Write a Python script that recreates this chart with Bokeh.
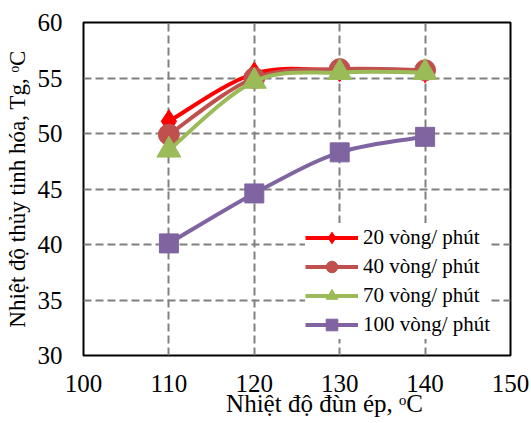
import math
from bokeh.plotting import figure
from bokeh.models import Legend, LegendItem, FixedTicker
from bokeh.embed import file_html
from bokeh.resources import INLINE

# ---- data ----
temps = [110, 120, 130, 140]
tg_20 = [51.1, 55.4, 55.7, 55.6]
tg_40 = [49.9, 55.0, 55.8, 55.7]
tg_70 = [48.5, 54.7, 55.5, 55.5]
tg_100 = [40.1, 44.6, 48.3, 49.7]
series_labels = ["20 vòng/ phút", "40 vòng/ phút", "70 vòng/ phút", "100 vòng/ phút"]
x_ticks = [100, 110, 120, 130, 140, 150]
y_ticks = [30, 35, 40, 45, 50, 55, 60]
x_title = "Nhiệt độ đùn ép, \u1d52C"
y_title = "Nhiệt độ thủy tinh hóa, Tg, \u1d52C"

FONT = "'Liberation Serif', 'Times New Roman', Times, serif"

# ---- layout ----
W, H = 531, 423
FL, FR, FT, FB = 83, 510, 22, 355   # frame edges in screen px

p = figure(width=W, height=H, x_range=(100, 150), y_range=(30, 60),
           output_backend="svg", toolbar_location=None,
           min_border_left=FL, min_border_right=W - FR,
           min_border_top=FT, min_border_bottom=H - FB)
p.background_fill_color = "white"
p.border_fill_color = "white"
p.outline_line_color = "black"
p.outline_line_width = 2
p.outline_line_alpha = 1.0

for ax, ticks in ((p.xaxis, x_ticks), (p.yaxis, y_ticks)):
    ax.ticker = FixedTicker(ticks=ticks)
    ax.major_label_text_font = FONT
    ax.major_label_text_font_size = "25px"
    ax.major_label_text_color = "black"
    ax.major_tick_in = 0
    ax.major_tick_out = 0
    ax.minor_tick_in = 0
    ax.minor_tick_out = 0
    ax.axis_line_color = None
    ax.axis_label_text_font = FONT
    ax.axis_label_text_font_style = "normal"
    ax.axis_label_text_color = "black"

p.xaxis.major_label_standoff = 19
p.yaxis.major_label_standoff = 21
# leading em/thin spaces push the centred title to the right, as in the reference
p.xaxis.axis_label = "\u2003\u2003\u2009" + x_title
p.yaxis.axis_label = y_title
p.xaxis.axis_label_text_font_size = "25px"
p.yaxis.axis_label_text_font_size = "23px"
p.xaxis.axis_label_standoff = -5
p.yaxis.axis_label_standoff = 5

for g, ticks in ((p.xgrid, x_ticks), (p.ygrid, y_ticks)):
    g.ticker = FixedTicker(ticks=ticks)
    g.grid_line_color = "#808080"
    g.grid_line_width = 2
    g.grid_line_dash = "8 4"

# ---- series ----
def smooth(xs, ys):
    n = len(xs)
    out = dict(x0=[], y0=[], x1=[], y1=[], cx0=[], cy0=[], cx1=[], cy1=[])
    for i in range(n - 1):
        im = i - 1 if i > 0 else i
        ip = i + 2 if i + 2 < n else i + 1
        out["x0"].append(xs[i]); out["y0"].append(ys[i])
        out["x1"].append(xs[i + 1]); out["y1"].append(ys[i + 1])
        out["cx0"].append(xs[i] + (xs[i + 1] - xs[im]) / 6)
        out["cy0"].append(ys[i] + (ys[i + 1] - ys[im]) / 6)
        out["cx1"].append(xs[i + 1] - (xs[ip] - xs[i]) / 6)
        out["cy1"].append(ys[i + 1] - (ys[ip] - ys[i]) / 6)
    return out

styles = [
    dict(color="#FF0000", marker="diamond", size=23),
    dict(color="#C0504D", marker="circle", size=21),
    dict(color="#9BBB59", marker="triangle", size=24),
    dict(color="#8064A2", marker="square", size=19),
]

items = []
for ys, lab, st in zip([tg_20, tg_40, tg_70, tg_100], series_labels, styles):
    c = smooth(temps, ys)
    br = p.bezier(x0=c["x0"], y0=c["y0"], x1=c["x1"], y1=c["y1"],
                  cx0=c["cx0"], cy0=c["cy0"], cx1=c["cx1"], cy1=c["cy1"],
                  line_color=st["color"], line_width=4)
    sr = p.scatter(temps, ys, marker=st["marker"], size=st["size"],
                   fill_color=st["color"], line_color=st["color"])
    items.append(LegendItem(label=lab, renderers=[br, sr]))

legend = Legend(items=items, location=(222, 16), background_fill_color="white",
                background_fill_alpha=1.0, border_line_color=None,
                glyph_width=53, glyph_height=29, spacing=0, padding=5, margin=0,
                label_standoff=5, label_text_font=FONT,
                label_text_font_size="21px", label_text_color="black")
p.add_layout(legend)

open("out.html", "w").write(file_html(p, INLINE))
